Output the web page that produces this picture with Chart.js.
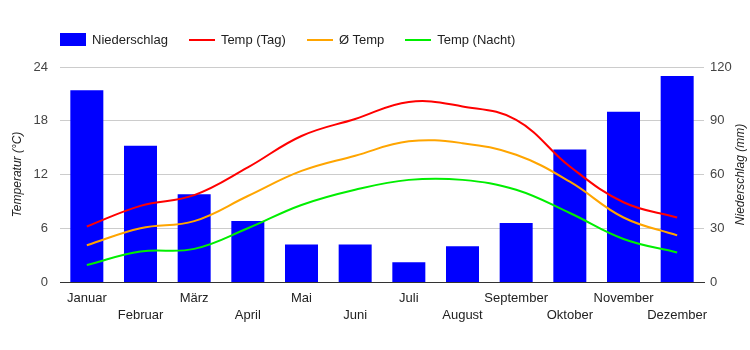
<!DOCTYPE html>
<html lang="de">
<head>
<meta charset="utf-8">
<title>Klimadiagramm</title>
<script src="https://cdn.jsdelivr.net/npm/chart.js@4.4.1/dist/chart.umd.min.js"></script>
<style>
    html, body { margin: 0; padding: 0; background: #fff; }
    .chart-wrap {
        position: relative;
        width: 750px;
        height: 350px;
        font-family: Arial, "Liberation Sans", sans-serif;
    }
    .chart-wrap canvas { position: absolute; left: 0; top: 0; }
    #legend {
        position: absolute;
        left: 60px;
        top: 33px;
        height: 13px;
        display: flex;
        align-items: center;
        font-size: 13px;
        color: #222;
        z-index: 2;
    }
    #legend .item { display: flex; align-items: center; margin-right: 21px; white-space: nowrap; }
    #legend .mark { width: 26px; margin-right: 6px; }
</style>
</head>
<body>
<div class="chart-wrap">
    <div id="legend"></div>
    <canvas id="climateChart" width="750" height="350"></canvas>
</div>

<script>
// --- Data ---
const months = ['Januar', 'Februar', 'März', 'April', 'Mai', 'Juni',
                'Juli', 'August', 'September', 'Oktober', 'November', 'Dezember'];
const rain      = [107, 76, 49, 34, 21, 21, 11, 20, 33, 74, 95, 115];
const tempDay   = [6.2, 8.5, 9.7, 12.8, 16.3, 18.2, 20.1, 19.6, 18.1, 12.9, 8.9, 7.2];
const tempAvg   = [4.1, 6.0, 6.8, 9.6, 12.4, 14.1, 15.7, 15.5, 14.2, 11.2, 7.2, 5.2];
const tempNight = [1.9, 3.4, 3.7, 6.0, 8.6, 10.3, 11.4, 11.4, 10.3, 7.7, 4.8, 3.3];
const tempTicks = [0, 6, 12, 18, 24];
const rainTicks = [0, 30, 60, 90, 120];

document.addEventListener('DOMContentLoaded', () => {

    Chart.defaults.font.family = 'Arial, "Liberation Sans", sans-serif';
    Chart.defaults.color = '#444';
    Chart.defaults.animation = false;

    // every second month label goes on a second row
    const xLabels = months.map((m, i) => (i % 2 ? ['', m] : m));

    // right axis title reads bottom-to-top like the left one
    const rightTitle = {
        id: 'rightTitle',
        afterDraw(chart) {
            const { ctx, chartArea } = chart;
            ctx.save();
            ctx.translate(chart.scales.y2.right - 9, (chartArea.top + chartArea.bottom) / 2);
            ctx.rotate(-Math.PI / 2);
            ctx.font = 'italic 12px Arial, "Liberation Sans", sans-serif';
            ctx.fillStyle = '#222';
            ctx.textAlign = 'center';
            ctx.textBaseline = 'middle';
            ctx.fillText('Niederschlag (mm)', 0, 0);
            ctx.restore();
        }
    };

    const lineSet = (label, data, color) => ({
        type: 'line',
        label,
        data,
        yAxisID: 'y',
        borderColor: color,
        backgroundColor: color,
        borderWidth: 2,
        tension: 0.4,
        pointRadius: 0,
        pointHoverRadius: 3,
        fill: false,
        order: 0
    });

    const chart = new Chart(document.getElementById('climateChart'), {
        type: 'bar',
        data: {
            labels: xLabels,
            datasets: [
                {
                    label: 'Niederschlag',
                    data: rain,
                    yAxisID: 'y2',
                    backgroundColor: '#0000ff',
                    borderWidth: 0,
                    barPercentage: 1,
                    categoryPercentage: 0.615,
                    order: 1
                },
                lineSet('Temp (Tag)', tempDay, '#ff0000'),
                lineSet('Ø Temp', tempAvg, '#ffa500'),
                lineSet('Temp (Nacht)', tempNight, '#00ee00')
            ]
        },
        options: {
            responsive: false,
            maintainAspectRatio: false,
            layout: { padding: { top: 67, left: 0, right: 0, bottom: 0 } },
            plugins: {
                legend: { display: false },
                tooltip: { mode: 'index', intersect: false }
            },
            scales: {
                x: {
                    grid: { display: false },
                    border: { color: '#333', width: 1 },
                    ticks: {
                        autoSkip: false,
                        maxRotation: 0,
                        padding: 0,
                        color: '#222',
                        font: { size: 13, lineHeight: 1.3 }
                    },
                    afterFit: s => { s.height = 68; }
                },
                y: {
                    position: 'left',
                    min: tempTicks[0],
                    max: tempTicks[tempTicks.length - 1],
                    grid: {
                        drawTicks: false,
                        color: c => (c.tick.value === 0 ? '#333' : '#cccccc')
                    },
                    border: { display: false },
                    ticks: {
                        stepSize: tempTicks[1] - tempTicks[0],
                        padding: 12,
                        font: { size: 13 }
                    },
                    title: {
                        display: true,
                        text: 'Temperatur (°C)',
                        color: '#222',
                        font: { size: 12, style: 'italic' },
                        padding: { top: 10, bottom: 0 }
                    },
                    afterFit: s => { s.width = 60; }
                },
                y2: {
                    position: 'right',
                    min: rainTicks[0],
                    max: rainTicks[rainTicks.length - 1],
                    grid: { display: false, drawTicks: false },
                    border: { display: false },
                    ticks: {
                        stepSize: rainTicks[1] - rainTicks[0],
                        padding: 6,
                        font: { size: 13 }
                    },
                    afterFit: s => { s.width = 46; }
                }
            }
        },
        plugins: [rightTitle]
    });

    // --- HTML legend built from the datasets ---
    const legend = document.getElementById('legend');
    chart.data.datasets.forEach(ds => {
        const item = document.createElement('span');
        item.className = 'item';
        const mark = document.createElement('span');
        mark.className = 'mark';
        if (ds.type === 'line') {
            mark.style.height = '2px';
            mark.style.background = ds.borderColor;
        } else {
            mark.style.height = '13px';
            mark.style.background = ds.backgroundColor;
        }
        item.appendChild(mark);
        item.appendChild(document.createTextNode(ds.label));
        legend.appendChild(item);
    });
});
</script>
</body>
</html>
